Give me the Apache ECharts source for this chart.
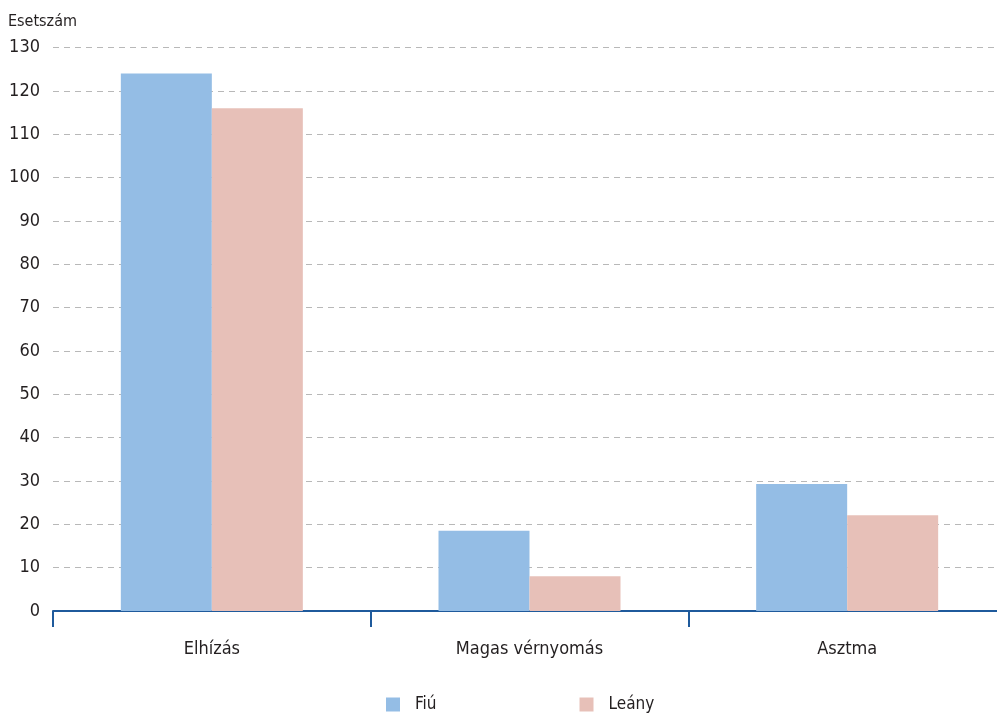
<!DOCTYPE html>
<html><head><meta charset="utf-8">
<script src="https://cdn.jsdelivr.net/npm/echarts@6/dist/echarts.min.js"></script>
<style>html,body{margin:0;padding:0;background:#fff;overflow:hidden;width:997px;height:719px}#c{width:1006px;height:719px}</style>
</head><body><div id="c"></div>
<script>
const categories = ['Elhízás', 'Magas vérnyomás', 'Asztma'];
const fiu = [124, 18.5, 29.3];
const leany = [116, 8, 22.1];
const seriesNames = ['Fiú', 'Leány'];
const yName = 'Esetszám';

const FONT = '"DejaVu Sans Condensed", "Liberation Sans Narrow", sans-serif';
const chart = echarts.init(document.getElementById('c'), null, {renderer: 'canvas'});
chart.setOption({
  animation: false,
  textStyle: {fontFamily: FONT},
  grid: {left: 53, top: 47.5, right: 0, bottom: 108, containLabel: false},
  legend: {
    data: seriesNames, top: 691, left: 381, itemWidth: 14, itemHeight: 14, itemGap: 143,
    textStyle: {fontFamily: FONT, fontSize: 17, color: '#231f20', padding: [0,0,0,10]},
    icon: 'rect'
  },
  xAxis: {
    type: 'category', data: categories,
    axisLine: {lineStyle: {color: '#1f5a9c', width: 2}},
    axisTick: {show: true, length: 16, lineStyle: {color: '#1f5a9c', width: 2}},
    axisLabel: {fontFamily: FONT, fontSize: 18, color: '#231f20', margin: 29}
  },
  yAxis: {
    type: 'value', min: 0, max: 130, interval: 10,
    name: yName, nameLocation: 'end', nameGap: 18,
    nameTextStyle: {fontFamily: FONT, fontSize: 16, color: '#231f20', align: 'left', padding: [0,0,0,-45]},
    axisLine: {show: false}, axisTick: {show: false},
    axisLabel: {fontFamily: FONT, fontSize: 18, color: '#231f20', margin: 13},
    splitLine: {lineStyle: {color: '#b8b8b8', type: [6, 5], width: 1}}
  },
  series: [
    {name: seriesNames[0], type: 'bar', data: fiu, barWidth: 91, barGap: '0%', itemStyle: {color: '#94bde5'}},
    {name: seriesNames[1], type: 'bar', data: leany, barWidth: 91, barGap: '0%', itemStyle: {color: '#e7c0b8'}}
  ]
});
</script></body></html>
